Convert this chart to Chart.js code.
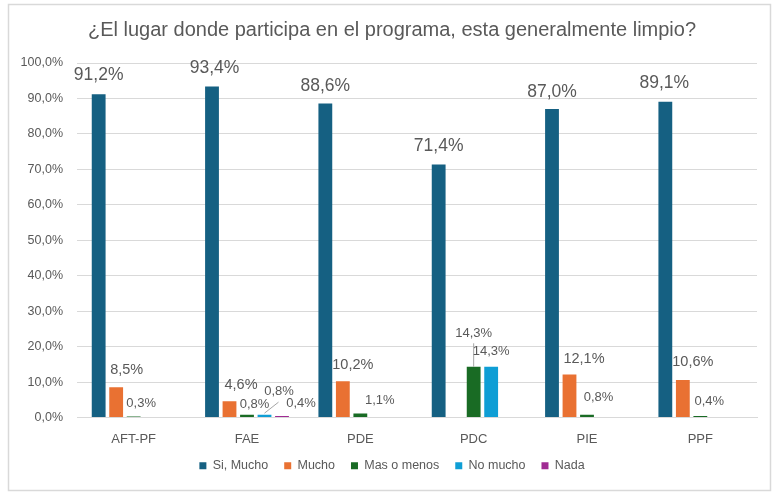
<!DOCTYPE html>
<html>
<head>
<meta charset="utf-8">
<script src="https://cdn.jsdelivr.net/npm/chart.js@4.4.1/dist/chart.umd.min.js"></script>
<style>
  html, body { margin: 0; padding: 0; background: #ffffff; }
  #wrap { width: 773px; height: 495px; position: relative; }
</style>
</head>
<body>
<div id="wrap"><canvas id="c"></canvas></div>
<script>
// Survey answers per program (percent of respondents)
const categories = ['AFT-PF', 'FAE', 'PDE', 'PDC', 'PIE', 'PPF'];
const seriesNames = ['Si, Mucho', 'Mucho', 'Mas o menos', 'No mucho', 'Nada'];
const siMucho   = [91.2, 93.4, 88.6, 71.4, 87.0, 89.1];
const mucho     = [8.5, 4.6, 10.2, null, 12.1, 10.6];
const masOMenos = [0.3, 0.8, 1.1, 14.3, 0.8, 0.4];
const noMucho   = [null, 0.8, null, 14.3, null, null];
const nada      = [null, 0.4, null, null, null, null];
const yTickValues = [0, 10, 20, 30, 40, 50, 60, 70, 80, 90, 100];

const seriesColors = ['#156082', '#E97132', '#196B24', '#0F9ED5', '#A02B93'];
const textColor = '#595959';
const gridColor = '#d9d9d9';
const FONT = '"Liberation Sans", Arial, sans-serif';

// Label placement: [dx, dy] from the bar's top-centre to the label's centre
const labelOffsets = [
  [[0, -19], [2.5, -18], [0, -17], [0, -18], [0, -17], [-1, -18.5]],
  [[10.5, -17], [11.5, -16.5], [10, -16], null, [14.5, -16], [10, -17.5]],
  [[7.5, -13.5], [7.5, -10], [19.5, -13], [0, -33.5], [11.5, -17], [9, -14.5]],
  [null, [14.5, -23], null, [0, -15.5], null, null],
  [null, [19, -12.5], null, null, null, null]
];
const labelSizes = [17.5, 14.5, 13, 13, 13];

// Leader lines: dataset, index, start and end relative to the bar's top-centre
const leaderLines = [
  { ds: 3, idx: 1, from: [0, -1.5], to: [14, -12.5] },
  { ds: 2, idx: 3, from: [0, 0], to: [0, -23.5] }
];

const pct = v => v.toFixed(1).replace('.', ',') + '%';

const frame = {
  id: 'frame',
  beforeDraw(chart) {
    const ctx = chart.ctx;
    ctx.save();
    ctx.fillStyle = '#ffffff';
    ctx.fillRect(0, 0, chart.width, chart.height);
    ctx.strokeStyle = gridColor;
    ctx.lineWidth = 1.5;
    ctx.strokeRect(8.5, 4.5, 762, 486);
    ctx.restore();
  }
};

const valueLabels = {
  id: 'valueLabels',
  afterDatasetsDraw(chart) {
    const ctx = chart.ctx;
    ctx.save();
    ctx.strokeStyle = '#a6a6a6';
    ctx.lineWidth = 1;
    leaderLines.forEach(l => {
      const bar = chart.getDatasetMeta(l.ds).data[l.idx];
      ctx.beginPath();
      ctx.moveTo(bar.x + l.from[0], bar.y + l.from[1]);
      ctx.lineTo(bar.x + l.to[0], bar.y + l.to[1]);
      ctx.stroke();
    });
    ctx.fillStyle = textColor;
    ctx.textAlign = 'center';
    ctx.textBaseline = 'middle';
    chart.data.datasets.forEach((ds, di) => {
      const meta = chart.getDatasetMeta(di);
      ctx.font = labelSizes[di] + 'px ' + FONT;
      meta.data.forEach((bar, i) => {
        const v = ds.data[i];
        const off = labelOffsets[di][i];
        if (v == null || !off) return;
        ctx.fillText(pct(v), bar.x + off[0], bar.y + off[1]);
      });
    });
    ctx.restore();
  }
};

const seriesData = [siMucho, mucho, masOMenos, noMucho, nada];

new Chart(document.getElementById('c'), {
  type: 'bar',
  data: {
    labels: categories,
    datasets: seriesNames.map((name, i) => ({
      label: name,
      data: seriesData[i],
      backgroundColor: seriesColors[i],
      borderWidth: 0,
      categoryPercentage: 0.772,
      barPercentage: 0.79
    }))
  },
  options: {
    responsive: true,
    maintainAspectRatio: false,
    animation: false,
    devicePixelRatio: 1,
    layout: { padding: { top: 0, left: 11, right: 0, bottom: 13 } },
    plugins: {
      title: {
        display: true,
        text: '¿El lugar donde participa en el programa, esta generalmente limpio?',
        color: textColor,
        font: { family: FONT, size: 20, weight: 'normal' },
        padding: { top: 18, bottom: 21 }
      },
      legend: {
        position: 'bottom',
        labels: {
          color: textColor,
          font: { family: FONT, size: 12.5 },
          boxWidth: 7,
          boxHeight: 7,
          padding: 16
        }
      },
      tooltip: { enabled: false }
    },
    scales: {
      x: {
        grid: { display: false, drawTicks: false },
        border: { display: true, color: gridColor },
        ticks: { color: textColor, font: { family: FONT, size: 13 }, padding: 14 },
        afterFit(s) { s.height = 26; }
      },
      y: {
        min: 0,
        max: 100,
        grid: { color: gridColor, drawTicks: false },
        border: { display: false },
        afterBuildTicks(s) { s.ticks = yTickValues.map(v => ({ value: v })); },
        ticks: {
          color: textColor,
          font: { family: FONT, size: 12.5 },
          padding: 14,
          callback: v => pct(v)
        },
        afterFit(s) { s.width = 66; }
      },
      // empty right-hand spacer keeping the plot clear of the frame
      yRight: {
        position: 'right',
        display: true,
        grid: { display: false, drawTicks: false },
        border: { display: false },
        ticks: { display: false },
        afterFit(s) { s.width = 16; }
      }
    }
  },
  plugins: [frame, valueLabels]
});
</script>
</body>
</html>
